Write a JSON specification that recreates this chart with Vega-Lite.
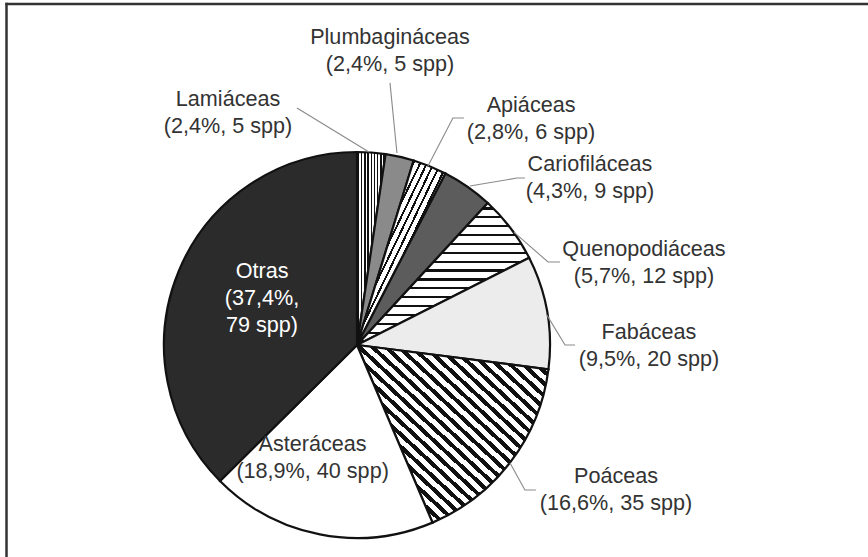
{
  "$schema": "https://vega.github.io/schema/vega-lite/v6.json",
  "width": 868,
  "height": 557,
  "autosize": {"type": "none"},
  "padding": 0,
  "background": "#ffffff",
  "config": {"view": {"stroke": null}},
  "datasets": {
    "slices": [
      {"familia": "Lamiáceas", "spp": 5, "orden": 1},
      {"familia": "Plumbagináceas", "spp": 5, "orden": 2},
      {"familia": "Apiáceas", "spp": 6, "orden": 3},
      {"familia": "Cariofiláceas", "spp": 9, "orden": 4},
      {"familia": "Quenopodiáceas", "spp": 12, "orden": 5},
      {"familia": "Fabáceas", "spp": 20, "orden": 6},
      {"familia": "Poáceas", "spp": 35, "orden": 7},
      {"familia": "Asteráceas", "spp": 40, "orden": 8},
      {"familia": "Otras", "spp": 79, "orden": 9}
    ],
    "labels": [
      {"familia": "Lamiáceas", "texto": "Lamiáceas\n(2,4%, 5 spp)", "lx": -0.668, "ly": 1.236},
      {"familia": "Plumbagináceas", "texto": "Plumbagináceas\n(2,4%, 5 spp)", "lx": 0.171, "ly": 1.562},
      {"familia": "Apiáceas", "texto": "Apiáceas\n(2,8%, 6 spp)", "lx": 0.902, "ly": 1.207},
      {"familia": "Cariofiláceas", "texto": "Cariofiláceas\n(4,3%, 9 spp)", "lx": 1.207, "ly": 0.902},
      {"familia": "Quenopodiáceas", "texto": "Quenopodiáceas\n(5,7%, 12 spp)", "lx": 1.487, "ly": 0.461},
      {"familia": "Fabáceas", "texto": "Fabáceas\n(9,5%, 20 spp)", "lx": 1.513, "ly": 0.031},
      {"familia": "Poáceas", "texto": "Poáceas\n(16,6%, 35 spp)", "lx": 1.342, "ly": -0.715},
      {"familia": "Asteráceas", "texto": "Asteráceas\n(18,9%, 40 spp)", "lx": -0.230, "ly": -0.549},
      {"familia": "Otras", "texto": "Otras\n(37,4%,\n79 spp)", "lx": -0.492, "ly": 0.347}
    ],
    "leaders": [
      {"familia": "Lamiáceas", "i": 1, "x": -0.311, "y": 1.228},
      {"familia": "Lamiáceas", "i": 2, "x": 0.062, "y": 1.0},
      {"familia": "Plumbagináceas", "i": 1, "x": 0.171, "y": 1.358},
      {"familia": "Plumbagináceas", "i": 2, "x": 0.207, "y": 0.995},
      {"familia": "Apiáceas", "i": 1, "x": 0.554, "y": 1.176},
      {"familia": "Apiáceas", "i": 2, "x": 0.497, "y": 1.176},
      {"familia": "Apiáceas", "i": 3, "x": 0.368, "y": 0.927},
      {"familia": "Cariofiláceas", "i": 1, "x": 0.870, "y": 0.865},
      {"familia": "Cariofiláceas", "i": 2, "x": 0.829, "y": 0.865},
      {"familia": "Cariofiláceas", "i": 3, "x": 0.585, "y": 0.824},
      {"familia": "Quenopodiáceas", "i": 1, "x": 1.052, "y": 0.430},
      {"familia": "Quenopodiáceas", "i": 2, "x": 0.990, "y": 0.430},
      {"familia": "Quenopodiáceas", "i": 3, "x": 0.813, "y": 0.585},
      {"familia": "Fabáceas", "i": 1, "x": 1.130, "y": 0.0},
      {"familia": "Fabáceas", "i": 2, "x": 1.078, "y": 0.0},
      {"familia": "Fabáceas", "i": 3, "x": 0.984, "y": 0.155},
      {"familia": "Poáceas", "i": 1, "x": 0.927, "y": -0.751},
      {"familia": "Poáceas", "i": 2, "x": 0.870, "y": -0.751},
      {"familia": "Poáceas", "i": 3, "x": 0.793, "y": -0.611}
    ]
  },
  "layer": [
    {
      "data": {"name": "slices"},
      "mark": {"type": "arc", "radius": 193, "stroke": "#111111", "strokeWidth": 2.2},
      "encoding": {
        "x": {"datum": 0, "type": "quantitative", "scale": {"domain": [-1.8497, 2.6477], "nice": false, "zero": false}, "axis": null},
        "y": {"datum": 0, "type": "quantitative", "scale": {"domain": [-1.0984, 1.7876], "nice": false, "zero": false}, "axis": null},
        "theta": {"field": "spp", "type": "quantitative", "stack": true},
        "order": {"field": "orden", "type": "quantitative"},
        "fill": {
          "condition": [
            {"test": "datum.orden === 1", "value": {"gradient": "linear", "x1": 0, "y1": 0, "x2": 1, "y2": 0, "stops": [
              {"offset": 0, "color": "#fff"},
              {"offset": 0.030, "color": "#fff"}, {"offset": 0.030, "color": "#111"}, {"offset": 0.080, "color": "#111"}, {"offset": 0.080, "color": "#fff"},
              {"offset": 0.141, "color": "#fff"}, {"offset": 0.141, "color": "#111"}, {"offset": 0.191, "color": "#111"}, {"offset": 0.191, "color": "#fff"},
              {"offset": 0.252, "color": "#fff"}, {"offset": 0.252, "color": "#111"}, {"offset": 0.302, "color": "#111"}, {"offset": 0.302, "color": "#fff"},
              {"offset": 0.363, "color": "#fff"}, {"offset": 0.363, "color": "#111"}, {"offset": 0.413, "color": "#111"}, {"offset": 0.413, "color": "#fff"},
              {"offset": 0.474, "color": "#fff"}, {"offset": 0.474, "color": "#111"}, {"offset": 0.524, "color": "#111"}, {"offset": 0.524, "color": "#fff"},
              {"offset": 0.586, "color": "#fff"}, {"offset": 0.586, "color": "#111"}, {"offset": 0.636, "color": "#111"}, {"offset": 0.636, "color": "#fff"},
              {"offset": 0.697, "color": "#fff"}, {"offset": 0.697, "color": "#111"}, {"offset": 0.747, "color": "#111"}, {"offset": 0.747, "color": "#fff"},
              {"offset": 0.808, "color": "#fff"}, {"offset": 0.808, "color": "#111"}, {"offset": 0.858, "color": "#111"}, {"offset": 0.858, "color": "#fff"},
              {"offset": 0.919, "color": "#fff"}, {"offset": 0.919, "color": "#111"}, {"offset": 0.969, "color": "#111"}, {"offset": 0.969, "color": "#fff"},
              {"offset": 1, "color": "#fff"}
            ]}},
            {"test": "datum.orden === 2", "value": "#8a8a8a"},
            {"test": "datum.orden === 3", "value": {"gradient": "linear", "x1": 0, "y1": 0, "x2": 1, "y2": 1, "stops": [
              {"offset": 0, "color": "#fff"},
              {"offset": 0.0120, "color": "#fff"}, {"offset": 0.0120, "color": "#111"}, {"offset": 0.0240, "color": "#111"}, {"offset": 0.0240, "color": "#fff"},
              {"offset": 0.0505, "color": "#fff"}, {"offset": 0.0505, "color": "#111"}, {"offset": 0.0625, "color": "#111"}, {"offset": 0.0625, "color": "#fff"},
              {"offset": 0.0889, "color": "#fff"}, {"offset": 0.0889, "color": "#111"}, {"offset": 0.1009, "color": "#111"}, {"offset": 0.1009, "color": "#fff"},
              {"offset": 0.1274, "color": "#fff"}, {"offset": 0.1274, "color": "#111"}, {"offset": 0.1394, "color": "#111"}, {"offset": 0.1394, "color": "#fff"},
              {"offset": 0.1658, "color": "#fff"}, {"offset": 0.1658, "color": "#111"}, {"offset": 0.1778, "color": "#111"}, {"offset": 0.1778, "color": "#fff"},
              {"offset": 0.2043, "color": "#fff"}, {"offset": 0.2043, "color": "#111"}, {"offset": 0.2163, "color": "#111"}, {"offset": 0.2163, "color": "#fff"},
              {"offset": 0.2428, "color": "#fff"}, {"offset": 0.2428, "color": "#111"}, {"offset": 0.2548, "color": "#111"}, {"offset": 0.2548, "color": "#fff"},
              {"offset": 0.2812, "color": "#fff"}, {"offset": 0.2812, "color": "#111"}, {"offset": 0.2932, "color": "#111"}, {"offset": 0.2932, "color": "#fff"},
              {"offset": 0.3197, "color": "#fff"}, {"offset": 0.3197, "color": "#111"}, {"offset": 0.3317, "color": "#111"}, {"offset": 0.3317, "color": "#fff"},
              {"offset": 0.3582, "color": "#fff"}, {"offset": 0.3582, "color": "#111"}, {"offset": 0.3702, "color": "#111"}, {"offset": 0.3702, "color": "#fff"},
              {"offset": 0.3966, "color": "#fff"}, {"offset": 0.3966, "color": "#111"}, {"offset": 0.4086, "color": "#111"}, {"offset": 0.4086, "color": "#fff"},
              {"offset": 0.4351, "color": "#fff"}, {"offset": 0.4351, "color": "#111"}, {"offset": 0.4471, "color": "#111"}, {"offset": 0.4471, "color": "#fff"},
              {"offset": 0.4735, "color": "#fff"}, {"offset": 0.4735, "color": "#111"}, {"offset": 0.4855, "color": "#111"}, {"offset": 0.4855, "color": "#fff"},
              {"offset": 0.5120, "color": "#fff"}, {"offset": 0.5120, "color": "#111"}, {"offset": 0.5240, "color": "#111"}, {"offset": 0.5240, "color": "#fff"},
              {"offset": 0.5505, "color": "#fff"}, {"offset": 0.5505, "color": "#111"}, {"offset": 0.5625, "color": "#111"}, {"offset": 0.5625, "color": "#fff"},
              {"offset": 0.5889, "color": "#fff"}, {"offset": 0.5889, "color": "#111"}, {"offset": 0.6009, "color": "#111"}, {"offset": 0.6009, "color": "#fff"},
              {"offset": 0.6274, "color": "#fff"}, {"offset": 0.6274, "color": "#111"}, {"offset": 0.6394, "color": "#111"}, {"offset": 0.6394, "color": "#fff"},
              {"offset": 0.6658, "color": "#fff"}, {"offset": 0.6658, "color": "#111"}, {"offset": 0.6778, "color": "#111"}, {"offset": 0.6778, "color": "#fff"},
              {"offset": 0.7043, "color": "#fff"}, {"offset": 0.7043, "color": "#111"}, {"offset": 0.7163, "color": "#111"}, {"offset": 0.7163, "color": "#fff"},
              {"offset": 0.7428, "color": "#fff"}, {"offset": 0.7428, "color": "#111"}, {"offset": 0.7548, "color": "#111"}, {"offset": 0.7548, "color": "#fff"},
              {"offset": 0.7812, "color": "#fff"}, {"offset": 0.7812, "color": "#111"}, {"offset": 0.7932, "color": "#111"}, {"offset": 0.7932, "color": "#fff"},
              {"offset": 0.8197, "color": "#fff"}, {"offset": 0.8197, "color": "#111"}, {"offset": 0.8317, "color": "#111"}, {"offset": 0.8317, "color": "#fff"},
              {"offset": 0.8582, "color": "#fff"}, {"offset": 0.8582, "color": "#111"}, {"offset": 0.8702, "color": "#111"}, {"offset": 0.8702, "color": "#fff"},
              {"offset": 0.8966, "color": "#fff"}, {"offset": 0.8966, "color": "#111"}, {"offset": 0.9086, "color": "#111"}, {"offset": 0.9086, "color": "#fff"},
              {"offset": 0.9351, "color": "#fff"}, {"offset": 0.9351, "color": "#111"}, {"offset": 0.9471, "color": "#111"}, {"offset": 0.9471, "color": "#fff"},
              {"offset": 0.9735, "color": "#fff"}, {"offset": 0.9735, "color": "#111"}, {"offset": 0.9855, "color": "#111"}, {"offset": 0.9855, "color": "#fff"},
              {"offset": 1, "color": "#fff"}
            ]}},
            {"test": "datum.orden === 4", "value": "#5c5c5c"},
            {"test": "datum.orden === 5", "value": {"gradient": "linear", "x1": 0, "y1": 0, "x2": 0, "y2": 1, "stops": [
              {"offset": 0, "color": "#fff"},
              {"offset": 0.030, "color": "#fff"}, {"offset": 0.030, "color": "#111"}, {"offset": 0.046, "color": "#111"}, {"offset": 0.046, "color": "#fff"},
              {"offset": 0.0925, "color": "#fff"}, {"offset": 0.0925, "color": "#111"}, {"offset": 0.1085, "color": "#111"}, {"offset": 0.1085, "color": "#fff"},
              {"offset": 0.155, "color": "#fff"}, {"offset": 0.155, "color": "#111"}, {"offset": 0.171, "color": "#111"}, {"offset": 0.171, "color": "#fff"},
              {"offset": 0.2175, "color": "#fff"}, {"offset": 0.2175, "color": "#111"}, {"offset": 0.2335, "color": "#111"}, {"offset": 0.2335, "color": "#fff"},
              {"offset": 0.280, "color": "#fff"}, {"offset": 0.280, "color": "#111"}, {"offset": 0.296, "color": "#111"}, {"offset": 0.296, "color": "#fff"},
              {"offset": 0.3425, "color": "#fff"}, {"offset": 0.3425, "color": "#111"}, {"offset": 0.3585, "color": "#111"}, {"offset": 0.3585, "color": "#fff"},
              {"offset": 0.405, "color": "#fff"}, {"offset": 0.405, "color": "#111"}, {"offset": 0.421, "color": "#111"}, {"offset": 0.421, "color": "#fff"},
              {"offset": 0.4675, "color": "#fff"}, {"offset": 0.4675, "color": "#111"}, {"offset": 0.4835, "color": "#111"}, {"offset": 0.4835, "color": "#fff"},
              {"offset": 0.530, "color": "#fff"}, {"offset": 0.530, "color": "#111"}, {"offset": 0.546, "color": "#111"}, {"offset": 0.546, "color": "#fff"},
              {"offset": 0.5925, "color": "#fff"}, {"offset": 0.5925, "color": "#111"}, {"offset": 0.6085, "color": "#111"}, {"offset": 0.6085, "color": "#fff"},
              {"offset": 0.655, "color": "#fff"}, {"offset": 0.655, "color": "#111"}, {"offset": 0.671, "color": "#111"}, {"offset": 0.671, "color": "#fff"},
              {"offset": 0.7175, "color": "#fff"}, {"offset": 0.7175, "color": "#111"}, {"offset": 0.7335, "color": "#111"}, {"offset": 0.7335, "color": "#fff"},
              {"offset": 0.780, "color": "#fff"}, {"offset": 0.780, "color": "#111"}, {"offset": 0.796, "color": "#111"}, {"offset": 0.796, "color": "#fff"},
              {"offset": 0.8425, "color": "#fff"}, {"offset": 0.8425, "color": "#111"}, {"offset": 0.8585, "color": "#111"}, {"offset": 0.8585, "color": "#fff"},
              {"offset": 0.905, "color": "#fff"}, {"offset": 0.905, "color": "#111"}, {"offset": 0.921, "color": "#111"}, {"offset": 0.921, "color": "#fff"},
              {"offset": 0.9675, "color": "#fff"}, {"offset": 0.9675, "color": "#111"}, {"offset": 0.9835, "color": "#111"}, {"offset": 0.9835, "color": "#fff"},
              {"offset": 1, "color": "#fff"}
            ]}},
            {"test": "datum.orden === 6", "value": "#ececec"},
            {"test": "datum.orden === 7", "value": {"gradient": "linear", "x1": 0, "y1": 1, "x2": 1, "y2": 0, "stops": [
              {"offset": 0, "color": "#fff"},
              {"offset": 0.0100, "color": "#fff"}, {"offset": 0.0100, "color": "#111"}, {"offset": 0.0255, "color": "#111"}, {"offset": 0.0255, "color": "#fff"},
              {"offset": 0.0445, "color": "#fff"}, {"offset": 0.0445, "color": "#111"}, {"offset": 0.0600, "color": "#111"}, {"offset": 0.0600, "color": "#fff"},
              {"offset": 0.0790, "color": "#fff"}, {"offset": 0.0790, "color": "#111"}, {"offset": 0.0945, "color": "#111"}, {"offset": 0.0945, "color": "#fff"},
              {"offset": 0.1134, "color": "#fff"}, {"offset": 0.1134, "color": "#111"}, {"offset": 0.1289, "color": "#111"}, {"offset": 0.1289, "color": "#fff"},
              {"offset": 0.1479, "color": "#fff"}, {"offset": 0.1479, "color": "#111"}, {"offset": 0.1634, "color": "#111"}, {"offset": 0.1634, "color": "#fff"},
              {"offset": 0.1824, "color": "#fff"}, {"offset": 0.1824, "color": "#111"}, {"offset": 0.1979, "color": "#111"}, {"offset": 0.1979, "color": "#fff"},
              {"offset": 0.2169, "color": "#fff"}, {"offset": 0.2169, "color": "#111"}, {"offset": 0.2324, "color": "#111"}, {"offset": 0.2324, "color": "#fff"},
              {"offset": 0.2514, "color": "#fff"}, {"offset": 0.2514, "color": "#111"}, {"offset": 0.2669, "color": "#111"}, {"offset": 0.2669, "color": "#fff"},
              {"offset": 0.2859, "color": "#fff"}, {"offset": 0.2859, "color": "#111"}, {"offset": 0.3014, "color": "#111"}, {"offset": 0.3014, "color": "#fff"},
              {"offset": 0.3203, "color": "#fff"}, {"offset": 0.3203, "color": "#111"}, {"offset": 0.3358, "color": "#111"}, {"offset": 0.3358, "color": "#fff"},
              {"offset": 0.3548, "color": "#fff"}, {"offset": 0.3548, "color": "#111"}, {"offset": 0.3703, "color": "#111"}, {"offset": 0.3703, "color": "#fff"},
              {"offset": 0.3893, "color": "#fff"}, {"offset": 0.3893, "color": "#111"}, {"offset": 0.4048, "color": "#111"}, {"offset": 0.4048, "color": "#fff"},
              {"offset": 0.4238, "color": "#fff"}, {"offset": 0.4238, "color": "#111"}, {"offset": 0.4393, "color": "#111"}, {"offset": 0.4393, "color": "#fff"},
              {"offset": 0.4583, "color": "#fff"}, {"offset": 0.4583, "color": "#111"}, {"offset": 0.4738, "color": "#111"}, {"offset": 0.4738, "color": "#fff"},
              {"offset": 0.4928, "color": "#fff"}, {"offset": 0.4928, "color": "#111"}, {"offset": 0.5083, "color": "#111"}, {"offset": 0.5083, "color": "#fff"},
              {"offset": 0.5272, "color": "#fff"}, {"offset": 0.5272, "color": "#111"}, {"offset": 0.5427, "color": "#111"}, {"offset": 0.5427, "color": "#fff"},
              {"offset": 0.5617, "color": "#fff"}, {"offset": 0.5617, "color": "#111"}, {"offset": 0.5772, "color": "#111"}, {"offset": 0.5772, "color": "#fff"},
              {"offset": 0.5962, "color": "#fff"}, {"offset": 0.5962, "color": "#111"}, {"offset": 0.6117, "color": "#111"}, {"offset": 0.6117, "color": "#fff"},
              {"offset": 0.6307, "color": "#fff"}, {"offset": 0.6307, "color": "#111"}, {"offset": 0.6462, "color": "#111"}, {"offset": 0.6462, "color": "#fff"},
              {"offset": 0.6652, "color": "#fff"}, {"offset": 0.6652, "color": "#111"}, {"offset": 0.6807, "color": "#111"}, {"offset": 0.6807, "color": "#fff"},
              {"offset": 0.6997, "color": "#fff"}, {"offset": 0.6997, "color": "#111"}, {"offset": 0.7152, "color": "#111"}, {"offset": 0.7152, "color": "#fff"},
              {"offset": 0.7341, "color": "#fff"}, {"offset": 0.7341, "color": "#111"}, {"offset": 0.7496, "color": "#111"}, {"offset": 0.7496, "color": "#fff"},
              {"offset": 0.7686, "color": "#fff"}, {"offset": 0.7686, "color": "#111"}, {"offset": 0.7841, "color": "#111"}, {"offset": 0.7841, "color": "#fff"},
              {"offset": 0.8031, "color": "#fff"}, {"offset": 0.8031, "color": "#111"}, {"offset": 0.8186, "color": "#111"}, {"offset": 0.8186, "color": "#fff"},
              {"offset": 0.8376, "color": "#fff"}, {"offset": 0.8376, "color": "#111"}, {"offset": 0.8531, "color": "#111"}, {"offset": 0.8531, "color": "#fff"},
              {"offset": 0.8721, "color": "#fff"}, {"offset": 0.8721, "color": "#111"}, {"offset": 0.8876, "color": "#111"}, {"offset": 0.8876, "color": "#fff"},
              {"offset": 0.9066, "color": "#fff"}, {"offset": 0.9066, "color": "#111"}, {"offset": 0.9221, "color": "#111"}, {"offset": 0.9221, "color": "#fff"},
              {"offset": 0.9410, "color": "#fff"}, {"offset": 0.9410, "color": "#111"}, {"offset": 0.9565, "color": "#111"}, {"offset": 0.9565, "color": "#fff"},
              {"offset": 0.9755, "color": "#fff"}, {"offset": 0.9755, "color": "#111"}, {"offset": 0.9910, "color": "#111"}, {"offset": 0.9910, "color": "#fff"},
              {"offset": 1, "color": "#fff"}
            ]}},
            {"test": "datum.orden === 9", "value": "#2b2b2b"}
          ],
          "value": "#ffffff"
        }
      }
    },
    {
      "data": {"name": "leaders"},
      "mark": {"type": "line", "stroke": "#8a8a8a", "strokeWidth": 1.1},
      "encoding": {
        "x": {"field": "x", "type": "quantitative"},
        "y": {"field": "y", "type": "quantitative"},
        "detail": {"field": "familia"},
        "order": {"field": "i", "type": "quantitative"}
      }
    },
    {
      "data": {"name": "labels"},
      "mark": {"type": "text", "font": "Liberation Sans", "fontSize": 21.6, "lineHeight": 27, "lineBreak": "\n", "align": "center", "baseline": "alphabetic"},
      "encoding": {
        "x": {"field": "lx", "type": "quantitative"},
        "y": {"field": "ly", "type": "quantitative"},
        "text": {"field": "texto"},
        "fill": {"condition": {"test": "datum.familia === 'Otras'", "value": "#ffffff"}, "value": "#333333"}
      }
    },
    {
      "data": {"values": [{}]},
      "mark": {"type": "rule", "stroke": "#333333", "strokeWidth": 2.5},
      "encoding": {
        "y": {"datum": 1.767, "type": "quantitative"},
        "x": {"datum": -1.822, "type": "quantitative"},
        "x2": {"datum": 2.6477}
      }
    },
    {
      "data": {"values": [{}]},
      "mark": {"type": "rule", "stroke": "#333333", "strokeWidth": 2.5},
      "encoding": {
        "x": {"datum": -1.816, "type": "quantitative"},
        "y": {"datum": 1.773, "type": "quantitative"},
        "y2": {"datum": -1.0984}
      }
    }
  ]
}
